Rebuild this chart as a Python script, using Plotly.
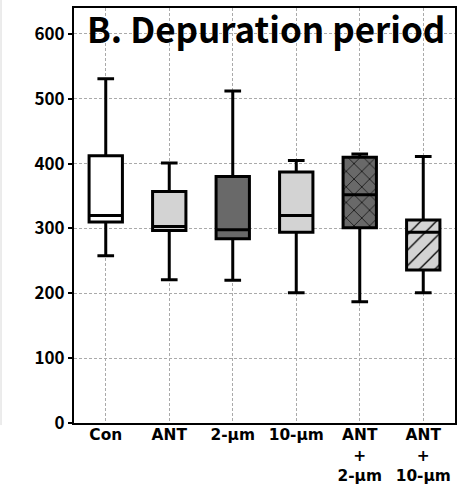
import plotly.graph_objects as go

# Group labels and summary statistics for each treatment
categories = ["Con", "ANT", "2-µm", "10-µm", "ANT<br>+<br>2-µm", "ANT<br>+<br>10-µm"]
lower_whisker = [258, 221, 220, 201, 187, 201]
q1_values = [310, 297, 284, 294, 301, 236]
medians = [320, 303, 298, 320, 352, 294]
q3_values = [412, 357, 380, 387, 410, 313]
upper_whisker = [531, 401, 512, 405, 415, 411]

fill_colors = ["#ffffff", "#d3d3d3", "#696969", "#d3d3d3", "#696969", "#d3d3d3"]
patterns = ["", "", "", "", "x", "/"]

y_ticks = [0, 100, 200, 300, 400, 500, 600]

FONT = "Noto Sans CJK JP"
BOX_WIDTH = 0.525

fig = go.Figure()

# Hatched fills for the combined treatments (drawn beneath the box outlines)
for i, cat in enumerate(categories):
    if not patterns[i]:
        continue
    fig.add_trace(go.Bar(
        x=[cat],
        y=[q3_values[i] - q1_values[i]],
        base=[q1_values[i]],
        width=BOX_WIDTH,
        marker=dict(
            color=fill_colors[i],
            line=dict(width=0),
            pattern=dict(shape=patterns[i], fgcolor="black", bgcolor=fill_colors[i],
                         size=11, solidity=0.12, fillmode="replace"),
        ),
        showlegend=False,
        hoverinfo="skip",
    ))

for i, cat in enumerate(categories):
    fig.add_trace(go.Box(
        x=[cat],
        q1=[q1_values[i]],
        median=[medians[i]],
        q3=[q3_values[i]],
        lowerfence=[lower_whisker[i]],
        upperfence=[upper_whisker[i]],
        fillcolor="rgba(0,0,0,0)" if patterns[i] else fill_colors[i],
        line=dict(color="black", width=3),
        whiskerwidth=0.5,
        width=BOX_WIDTH,
        boxpoints=False,
        showlegend=False,
        hoverinfo="skip",
    ))

fig.update_layout(
    width=468,
    height=486,
    margin=dict(l=74, r=13, t=8, b=63, autoexpand=False),
    paper_bgcolor="white",
    plot_bgcolor="white",
    boxmode="overlay",
    barmode="overlay",
    font=dict(family=FONT, color="black"),
    annotations=[dict(
        text="<b>B. Depuration period</b>",
        xref="paper", yref="paper", x=0.505, y=1.0, yshift=8,
        xanchor="center", yanchor="top",
        showarrow=False,
        font=dict(family=FONT, size=35, color="black"),
    )],
)

fig.update_xaxes(
    type="category",
    categoryorder="array",
    categoryarray=categories,
    range=[-0.5, 5.5],
    tickvals=categories,
    ticktext=["<b>" + c.replace("<br>", "</b><br><b>") + "</b>" for c in categories],
    tickfont=dict(family="DejaVu Sans", size=15.4, color="black"),
    ticklabelstandoff=-3,
    automargin=False,
    showgrid=True,
    gridcolor="#aaaaaa",
    gridwidth=1,
    griddash="3px,2px",
    showline=True,
    linecolor="black",
    linewidth=2,
    mirror=True,
    ticks="",
)

fig.update_yaxes(
    range=[0, 640],
    tickvals=y_ticks,
    ticktext=["<b>%d</b>" % v for v in y_ticks],
    tickfont=dict(family=FONT, size=17, color="black"),
    automargin=False,
    showgrid=True,
    gridcolor="#aaaaaa",
    gridwidth=1,
    griddash="3px,2px",
    zeroline=False,
    showline=True,
    linecolor="black",
    linewidth=2,
    mirror=True,
    ticks="outside",
    ticklen=4,
    tickwidth=1.5,
    tickcolor="black",
)

# faint border of the neighbouring panel along the left edge
fig.add_shape(type="line", xref="paper", yref="paper",
              x0=-73 / 381, x1=-73 / 381, y0=-0.005, y1=1.02,
              line=dict(color="#d8d8d8", width=1))

fig.write_html("out.html")
